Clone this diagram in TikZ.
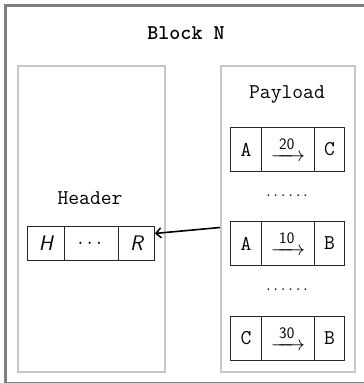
\documentclass[tikz,border=0pt]{standalone}
\usepackage{fontspec}
\usepackage{amsmath}
\usetikzlibrary{arrows.meta}
\newcommand{\sixdots}{.\kern2.2pt.\kern2.2pt.\kern2.2pt.\kern2.2pt.\kern2.2pt.}
\begin{document}
\begin{tikzpicture}[x=1pt,y=-1pt,
  lbl/.style={font=\fontsize{21}{24}\selectfont\ttfamily, inner sep=0pt},
  frame/.style={draw=black!50, line width=3pt},
  panel/.style={draw=black!22, line width=1.5pt, fill=white, inner sep=0pt, anchor=north west},
  cell/.style={draw=black!85, line width=0.9pt, inner sep=0pt, anchor=north west, font=\fontsize{21}{24}\selectfont\ttfamily},
  dotrow/.style={font=\fontsize{21}{24}\selectfont, inner sep=0pt},
  link/.style={line width=1.6pt, -{Straight Barb[length=5pt,width=10pt,line width=1.6pt]}}
]
\useasboundingbox (0,0) rectangle (364,383);
\fill[white] (0,0) rectangle (364,383);
% outer frame (partly outside the page)
\draw[frame] (5.5,5.5) rectangle (368,383.6);
\node[lbl, font=\fontsize{21}{24}\selectfont\ttfamily\bfseries] (title) at (186,33) {Block N};
% panels
\node[panel, minimum width=147pt, minimum height=306pt] (headerbox) at (17,65) {};
\node[panel, minimum width=134pt, minimum height=306pt] (payloadbox) at (220,65) {};
\node[lbl] (headerlbl) at (90,198) {Header};
\node[lbl] (payloadlbl) at (287,94) {Payload};
% header row
\node[cell, minimum width=37pt, minimum height=34pt] (h1) at (27,226) {\sffamily\itshape H};
\node[cell, minimum width=54pt, minimum height=34pt] (h2) at (64,226) {$\cdots$};
\node[cell, minimum width=36pt, minimum height=34pt] (h3) at (118,226) {\sffamily\itshape R};
% payload rows
\newcommand{\prow}[5]{%
  \node[cell, minimum width=31pt, minimum height=44pt] (#1a) at (230,#2) {#3};
  \node[cell, minimum width=53pt, minimum height=44pt] (#1b) at (261,#2) {$\xrightarrow{\;\textsf{\fontsize{16}{18}\selectfont #4}\;}$};
  \node[cell, minimum width=30pt, minimum height=44pt] (#1c) at (314,#2) {#5};
}
\prow{ra}{127}{A}{20}{C}
\prow{rb}{221}{A}{10}{B}
\prow{rc}{315.5}{C}{30}{B}
\node[dotrow] (dots1) at (287,196) {\sixdots};
\node[dotrow] (dots2) at (287,290) {\sixdots};
% connector
\coordinate (src) at (220,227.5);
\draw[link] (src) -- ([yshift=10pt]h3.east);
\end{tikzpicture}
\end{document}
